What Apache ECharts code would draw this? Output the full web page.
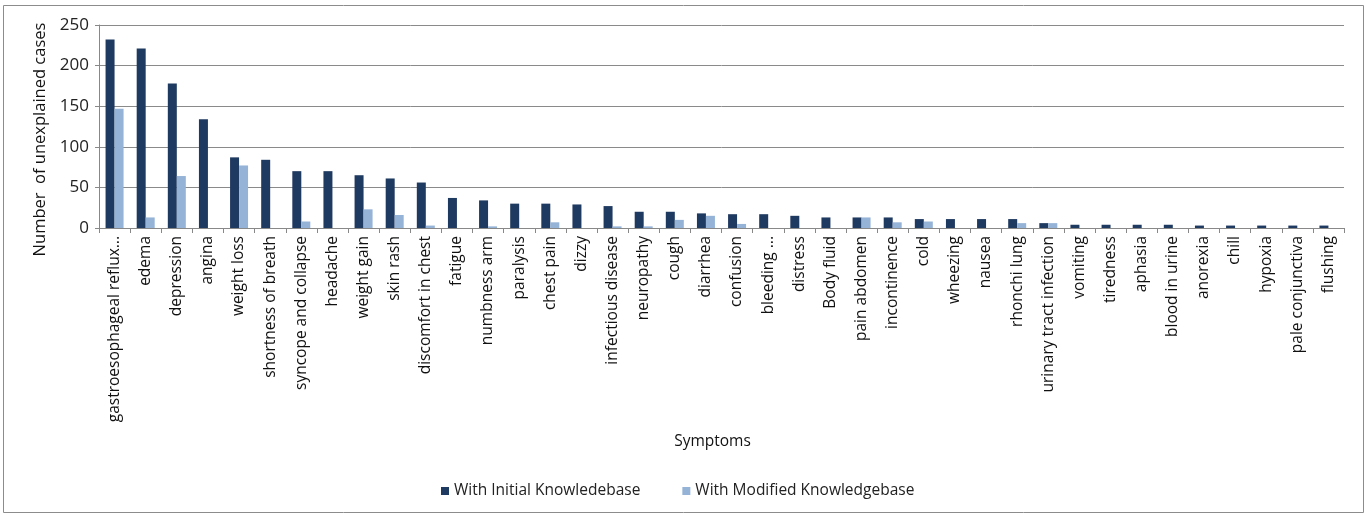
<!DOCTYPE html>
<html>
<head>
<meta charset="UTF-8">
<title>Unexplained cases</title>
<script src="https://cdn.jsdelivr.net/npm/echarts@6/dist/echarts.min.js"></script>
<style>
  html, body { margin: 0; padding: 0; background: #fff; }
  #chart { width: 1369px; height: 516px; }
</style>
</head>
<body>
<div id="chart"></div>
<script>
var symptoms = ['gastroesophageal reflux...', 'edema', 'depression', 'angina', 'weight loss',
  'shortness of breath', 'syncope and collapse', 'headache', 'weight gain', 'skin rash',
  'discomfort in chest', 'fatigue', 'numbness arm', 'paralysis', 'chest pain', 'dizzy',
  'infectious disease', 'neuropathy', 'cough', 'diarrhea', 'confusion', 'bleeding ...',
  'distress', 'Body fluid', 'pain abdomen', 'incontinence', 'cold', 'wheezing', 'nausea',
  'rhonchi lung', 'urinary tract infection', 'vomiting', 'tiredness', 'aphasia',
  'blood in urine', 'anorexia', 'chill', 'hypoxia', 'pale conjunctiva', 'flushing'];
var initialKb = [232, 221, 178, 134, 87, 84, 70, 70, 65, 61, 56, 37, 34, 30, 30, 29, 27, 20, 20, 18,
  17, 17, 15, 13, 13, 13, 11, 11, 11, 11, 6, 4, 4, 4, 4, 3, 3, 3, 3, 3];
var modifiedKb = [147, 13, 64, 0, 77, 0, 8, 0, 23, 16, 3, 0, 2, 0, 7, 0, 2, 2, 10, 15,
  5, 0, 0, 0, 13, 7, 8, 0, 0, 6, 6, 0, 0, 0, 0, 0, 0, 0, 0, 0];
var yTicks = [0, 50, 100, 150, 200, 250];

var font = 'Open Sans';
var chart = echarts.init(document.getElementById('chart'));
chart.setOption({
  animation: false,
  textStyle: { fontFamily: font, color: '#000' },
  graphic: [{
    type: 'rect',
    shape: { x: 3.5, y: 5.5, width: 1360, height: 507 },
    style: { fill: 'none', stroke: '#8c8c8c', lineWidth: 1 },
    silent: true
  }],
  grid: { left: 99, right: 25, top: 25, bottom: 288, outerBoundsMode: 'none', containLabel: false },
  legend: {
    bottom: 12,
    left: 436,
    itemWidth: 8,
    itemHeight: 8,
    itemGap: 42,
    icon: 'rect',
    textStyle: { fontFamily: font, fontSize: 15.5, color: '#222' },
    data: ['With Initial Knowledebase', 'With Modified Knowledgebase']
  },
  xAxis: {
    type: 'category',
    data: symptoms,
    name: 'Symptoms',
    nameLocation: 'middle',
    nameGap: 206,
    nameTextStyle: { fontFamily: font, fontSize: 15.5, color: '#111', padding: [0, 18, 0, 0] },
    axisLine: { lineStyle: { color: '#888' } },
    axisTick: { show: true, alignWithLabel: false, length: 5, lineStyle: { color: '#888' } },
    axisLabel: { interval: 0, rotate: 90, fontSize: 15.5, color: '#111', margin: 8 }
  },
  yAxis: {
    type: 'value',
    min: yTicks[0],
    max: yTicks[yTicks.length - 1],
    interval: 50,
    name: 'Number  of unexplained cases',
    nameLocation: 'middle',
    nameGap: 47,
    nameTextStyle: { fontFamily: font, fontSize: 16.5, color: '#111', padding: [0, 26, 0, 0] },
    axisLine: { show: true, lineStyle: { color: '#888' } },
    axisTick: { show: true, length: 4, lineStyle: { color: '#888' } },
    axisLabel: { fontSize: 17, color: '#222', margin: 10 },
    splitLine: { lineStyle: { color: '#8a8a8a', width: 1 } }
  },
  series: [
    {
      name: 'With Initial Knowledebase',
      type: 'bar',
      data: initialKb,
      barWidth: 9,
      barGap: '0%',
      itemStyle: { color: '#1f3a60' }
    },
    {
      name: 'With Modified Knowledgebase',
      type: 'bar',
      data: modifiedKb,
      barWidth: 9,
      itemStyle: { color: '#95b3d7' }
    }
  ]
});
</script>
</body>
</html>
